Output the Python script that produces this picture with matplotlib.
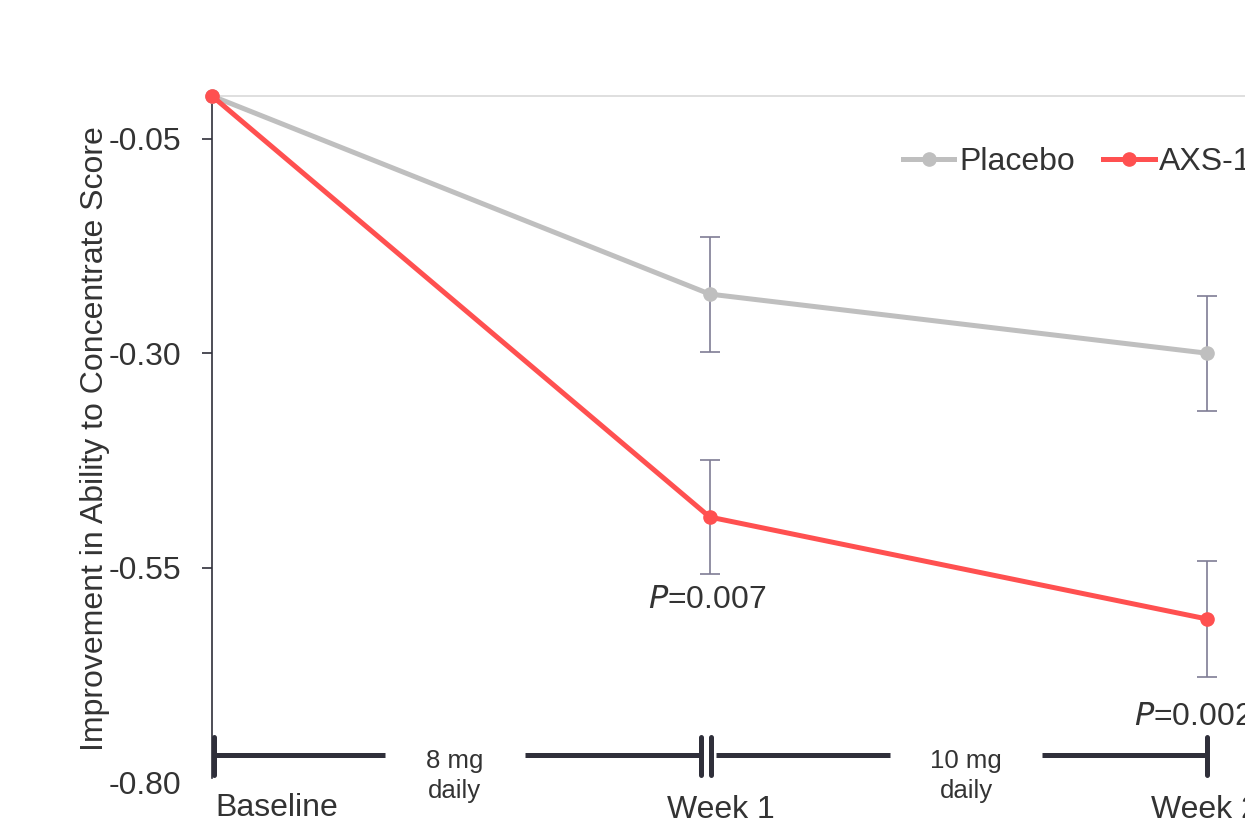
import numpy as np
import matplotlib
matplotlib.use("Agg")
import matplotlib.pyplot as plt
from matplotlib.lines import Line2D

plt.rcParams['font.family'] = ['Liberation Sans', 'DejaVu Sans']

# 数据
timepoints = ["Baseline", "Week 1", "Week 2"]
placebo = [0.0, -0.231, -0.300]
placebo_err = [0.0, 0.067, 0.067]
axs12 = [0.0, -0.491, -0.610]
axs12_err = [0.0, 0.067, 0.068]
p_values = ["0.007", "0.002"]
doses = ["8 mg\ndaily", "10 mg\ndaily"]
yticks = [-0.80, -0.55, -0.30, -0.05]

GRAY = "#bfbfbf"
RED = "#ff5050"
ERR = "#7f7d95"
DARK = "#2f2f3a"
TXT = "#333333"

fig = plt.figure(figsize=(12.45, 8.22), dpi=100)
# 右侧超出画布，模拟原图被裁掉的效果
ax = fig.add_axes([212 / 1245, 40 / 822, 2.5 * 497.7 / 1245, 686 / 822])

x = np.arange(len(timepoints))

# 误差线（只有 Week 1 / Week 2）
ax.errorbar(x[1:], placebo[1:], yerr=placebo_err[1:], fmt="none", ecolor=ERR,
            elinewidth=1.2, capsize=7.5, capthick=1.2, zorder=2, clip_on=False)
ax.errorbar(x[1:], axs12[1:], yerr=axs12_err[1:], fmt="none", ecolor=ERR,
            elinewidth=1.2, capsize=7.5, capthick=1.2, zorder=2, clip_on=False)

ax.plot(x, placebo, color=GRAY, lw=3.6, marker="o", ms=9.5, zorder=3,
        clip_on=False, label="Placebo")
ax.plot(x, axs12, color=RED, lw=3.6, marker="o", ms=9.5, zorder=4,
        clip_on=False, label="AXS-12")

ax.set_xlim(0, 2.5)
ax.set_ylim(-0.80, 0.0)
ax.set_yticks(yticks)
ax.set_yticklabels([f"{v:.2f}" for v in yticks])
ax.set_xticks([])

ax.spines["right"].set_visible(False)
ax.spines["bottom"].set_visible(False)
ax.spines["top"].set_color("#d9d9d9")
ax.spines["top"].set_linewidth(1.2)
ax.spines["left"].set_color(DARK)
ax.spines["left"].set_linewidth(1.2)
ax.spines["left"].set_bounds(-0.795, 0.0)
ax.tick_params(axis="y", direction="out", length=7, width=1.2, color=DARK,
               labelsize=23, labelcolor=TXT, pad=15)
# 最底部 -0.80 没有刻度线
ax.yaxis.get_major_ticks()[0].tick1line.set_visible(False)

ax.set_ylabel("Improvement in Ability to Concentrate Score", fontsize=23,
              color=TXT, labelpad=-0.5)

# 时间轴（剂量阶段）
y_t = -0.769
gap_centers = [0.488, 1.515]
gap_half = [0.141, 0.153]
kw = dict(color=DARK, lw=3.6, solid_capstyle="butt", clip_on=False, zorder=5)
for i in range(len(doses)):
    mid = gap_centers[i]
    start = x[i] + (0.005 if i == 0 else 0.012)
    end = x[i + 1] - (0.018 if i == 0 else 0.0)
    ax.plot([start, mid - gap_half[i]], [y_t, y_t], **kw)
    ax.plot([mid + gap_half[i], end], [y_t, y_t], **kw)
    ax.text(mid, y_t - 0.024, doses[i], ha="center", va="center",
            fontsize=18.5, color=TXT, linespacing=1.3, clip_on=False)

tick_kw = dict(color=DARK, lw=3.6, solid_capstyle="round", clip_on=False, zorder=5)
ax.plot([x[0] + 0.005] * 2, [y_t - 0.023, y_t + 0.021], **tick_kw)
ax.plot([x[1] - 0.018] * 2, [y_t - 0.023, y_t + 0.021], **tick_kw)
ax.plot([x[1] + 0.002] * 2, [y_t - 0.023, y_t + 0.021], **tick_kw)
ax.plot([x[2]] * 2, [y_t - 0.023, y_t + 0.021], **tick_kw)

# 时间点标签
ax.text(x[0] + 0.006, -0.830, timepoints[0], ha="left", va="center",
        fontsize=23, color=TXT, clip_on=False)
ax.text(x[1] + 0.022, -0.833, timepoints[1], ha="center", va="center",
        fontsize=23, color=TXT, clip_on=False)
ax.text(x[2] - 0.005, -0.833, timepoints[2], ha="center", va="center",
        fontsize=23, color=TXT, clip_on=False)

# P 值
ax.text(x[1] - 0.006, -0.588, f"$\\it{{P}}$={p_values[0]}", ha="center",
        va="center", fontsize=23, color=TXT, clip_on=False)
ax.text(x[2] - 0.028, -0.724, f"$\\it{{P}}$={p_values[1]}", ha="center",
        va="center", fontsize=23, color=TXT, clip_on=False)

handles = [Line2D([], [], color=GRAY, lw=3.6, marker="o", ms=9.5),
           Line2D([], [], color=RED, lw=3.6, marker="o", ms=9.5)]
fig.legend(handles, ["Placebo", "AXS-12"], loc="center left",
           bbox_to_anchor=(903 / 1245, 1 - 162 / 822), ncol=2, frameon=False,
           fontsize=23, handlelength=1.6, handletextpad=0.15,
           columnspacing=0.9, borderpad=0, borderaxespad=0, labelcolor=TXT)

fig.savefig("out.png", dpi=100)
